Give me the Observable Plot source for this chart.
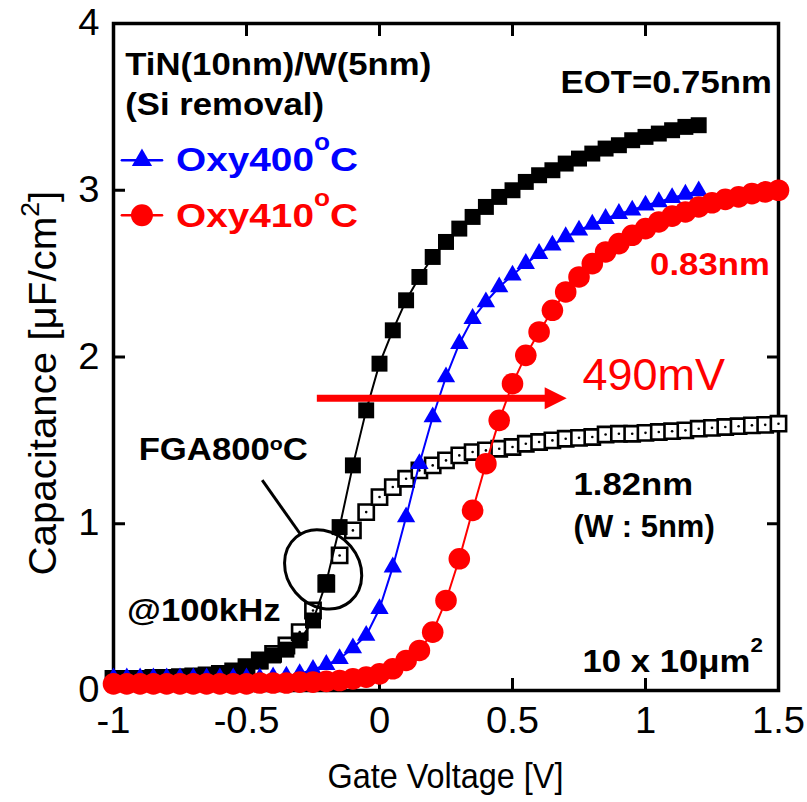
<!DOCTYPE html>
<html><head><meta charset="utf-8">
<script src="https://cdn.jsdelivr.net/npm/d3@7"></script>
<script src="https://cdn.jsdelivr.net/npm/@observablehq/plot@0.6"></script>
<style>html,body{margin:0;padding:0;background:#fff;} #chart svg{display:block}</style>
</head><body><div id="chart"></div>
<script>
// Gate voltage grid (V)
const vGate = [-1.00,-0.95,-0.90,-0.85,-0.80,-0.75,-0.70,-0.65,-0.60,-0.55,-0.50,-0.45,-0.40,-0.35,-0.30,-0.25,-0.20,-0.15,-0.10,-0.05,
  0.00,0.05,0.10,0.15,0.20,0.25,0.30,0.35,0.40,0.45,0.50,0.55,0.60,0.65,0.70,0.75,0.80,0.85,0.90,0.95,
  1.00,1.05,1.10,1.15,1.20,1.25,1.30,1.35,1.40,1.45,1.50];
// EOT=0.75nm (filled squares), -1..1.2 V
const capEOT075 = [0.07,0.07,0.07,0.07,0.075,0.075,0.08,0.085,0.095,0.11,0.135,0.175,0.21,0.245,0.30,0.42,0.65,0.98,1.35,1.68,
  1.96,2.16,2.34,2.48,2.60,2.69,2.77,2.84,2.90,2.96,3.00,3.05,3.09,3.12,3.16,3.19,3.22,3.25,3.27,3.30,
  3.32,3.34,3.36,3.38,3.39];
// FGA800C, 1.82nm (open squares), -1..1.5 V
const capFGA800 = [0.07,0.07,0.07,0.075,0.075,0.08,0.085,0.09,0.10,0.115,0.14,0.18,0.22,0.27,0.35,0.48,0.64,0.81,0.96,1.07,
  1.16,1.22,1.27,1.32,1.35,1.38,1.41,1.43,1.44,1.45,1.46,1.48,1.49,1.50,1.51,1.515,1.52,1.535,1.54,1.54,
  1.545,1.55,1.555,1.56,1.57,1.575,1.58,1.585,1.59,1.593,1.60];
// Oxy400C (triangles), -1..1.2 V
const capOxy400 = [0.075,0.075,0.075,0.075,0.075,0.075,0.075,0.075,0.075,0.075,0.075,0.075,0.08,0.085,0.10,0.125,0.155,0.19,0.255,0.33,
  0.49,0.74,1.04,1.36,1.64,1.88,2.08,2.23,2.33,2.42,2.49,2.56,2.62,2.67,2.72,2.76,2.795,2.83,2.86,2.88,
  2.91,2.93,2.955,2.975,2.995];
// Oxy410C (circles), -1..1.5 V
const capOxy410 = [0.04,0.04,0.04,0.04,0.04,0.04,0.04,0.04,0.04,0.04,0.04,0.045,0.045,0.045,0.05,0.05,0.055,0.06,0.07,0.08,
  0.10,0.13,0.18,0.24,0.35,0.54,0.79,1.08,1.36,1.62,1.84,2.01,2.15,2.28,2.39,2.48,2.56,2.63,2.68,2.73,
  2.77,2.81,2.845,2.87,2.90,2.925,2.945,2.96,2.98,2.99,3.00];
const xTicks = [-1,-0.5,0,0.5,1,1.5];
const yTicks = [0,1,2,3,4];
const legendNames = ["Oxy400", "Oxy410"];

const toRows = (vals) => vals.map((c, i) => ({v: vGate[i], c}));
const rowsEOT = toRows(capEOT075), rowsFGA = toRows(capFGA800), rows400 = toRows(capOxy400), rows410 = toRows(capOxy410);

const BLUE = "#0000ff", RED = "#ff0000";
const FONT = "'Liberation Sans', Arial, Helvetica, sans-serif";

// legend anchor positions (data units)
const legX = [-0.9685, -0.8175], legMarkX = -0.8930, legY = [3.180, 2.850];
const legLine400 = legX.map(v => ({v, c: legY[0]})), legLine410 = legX.map(v => ({v, c: legY[1]}));

const chart = Plot.plot({
  width: 807, height: 802,
  marginLeft: 113, marginRight: 29, marginTop: 23, marginBottom: 112,
  style: {fontFamily: FONT, background: "white", overflow: "visible"},
  x: {domain: [-1, 1.5], axis: null},
  y: {domain: [0, 4], axis: null},
  marks: [
    Plot.frame({stroke: "black", strokeWidth: 3.5}),
    Plot.axisX(xTicks, {anchor: "bottom", tickSize: -12, strokeWidth: 3, tickFormat: () => "", label: null}),
    Plot.axisX(xTicks, {anchor: "top", tickSize: -12, strokeWidth: 3, tickFormat: () => "", label: null}),
    Plot.axisY(yTicks, {anchor: "left", tickSize: -12, strokeWidth: 3, tickFormat: () => "", label: null}),
    Plot.axisY(yTicks, {anchor: "right", tickSize: -12, strokeWidth: 3, tickFormat: () => "", label: null}),
    Plot.axisX(xTicks, {anchor: "bottom", tickSize: 0, tickPadding: 17, fontSize: 36, fill: "black", tickFormat: d => String(d), label: null}),
    Plot.axisY(yTicks, {anchor: "left", tickSize: 0, tickPadding: 14, fontSize: 36, fill: "black", tickFormat: d => String(d), label: null}),
    // open squares
    Plot.dot(rowsFGA, {x: "v", y: "c", symbol: "square", r: 8.6, fill: "white", stroke: "black", strokeWidth: 2.6}),
    Plot.dot(rowsFGA, {x: "v", y: "c", r: 1.3, fill: "black"}),
    // filled squares
    Plot.line(rowsEOT, {x: "v", y: "c", stroke: "black", strokeWidth: 2}),
    Plot.dot(rowsEOT, {x: "v", y: "c", symbol: "square", r: 9.0, fill: "black"}),
    // triangles
    Plot.line(rows400, {x: "v", y: "c", stroke: BLUE, strokeWidth: 2}),
    Plot.dot(rows400, {x: "v", y: "c", symbol: "triangle", r: 6.8, fill: BLUE}),
    // circles
    Plot.line(rows410, {x: "v", y: "c", stroke: RED, strokeWidth: 2}),
    Plot.dot(rows410, {x: "v", y: "c", r: 10.8, fill: RED}),
    // legend
    Plot.line(legLine400, {x: "v", y: "c", stroke: BLUE, strokeWidth: 2.5}),
    Plot.dot([{v: legMarkX, c: legY[0]}], {x: "v", y: "c", symbol: "triangle", r: 7.5, fill: BLUE}),
    Plot.line(legLine410, {x: "v", y: "c", stroke: RED, strokeWidth: 2.5}),
    Plot.dot([{v: legMarkX, c: legY[1]}], {x: "v", y: "c", r: 11, fill: RED})
  ]
});
document.getElementById("chart").appendChild(chart);

// widen tick-label glyphs slightly, as in the reference
const STRETCH = 1.06;
chart.querySelectorAll("text").forEach(t => {
  const tr = t.getAttribute("transform") || "";
  t.setAttribute("transform", tr + ` scale(${STRETCH},1)`);
});

const sx = chart.scale("x"), sy = chart.scale("y");
const X = v => sx.apply(v), Y = v => sy.apply(v);
const layer = d3.select(chart).append("g").attr("font-family", FONT);

const annotations = [
  {x: -0.954, y: 3.691, parts: [{t: "TiN(10nm)/W(5nm)"}]},
  {x: -0.954, y: 3.450, parts: [{t: "(Si removal)"}]},
  {x: 1.4767, y: 3.580, anchor: "end", parts: [{t: "EOT=0.75nm"}]},
  {x: -0.7628, y: 3.110, size: 34, stretch: 1.14, fill: BLUE, supSize: 23, supShift: 21, parts: [{t: legendNames[0]}, {t: "o", sup: true}, {t: "C"}]},
  {x: -0.7628, y: 2.775, size: 34, stretch: 1.14, fill: RED, supSize: 23, supShift: 21, parts: [{t: legendNames[1]}, {t: "o", sup: true}, {t: "C"}]},
  {x: 1.469, y: 2.489, anchor: "end", fill: RED, parts: [{t: "0.83nm"}]},
  {x: 0.765, y: 1.799, size: 45, weight: "normal", fill: RED, stretch: 1.0, parts: [{t: "490mV"}]},
  {x: -0.9035, y: 1.378, supSize: 19, supShift: 10, parts: [{t: "FGA800"}, {t: "o", sup: true}, {t: "C"}]},
  {x: -0.947, y: 0.411, parts: [{t: "@100kHz"}]},
  {x: 0.7314, y: 1.168, parts: [{t: "1.82nm"}]},
  {x: 0.7314, y: 0.916, stretch: 1.0, parts: [{t: "(W : 5nm)"}]},
  {x: 0.765, y: 0.105, supSize: 20, supShift: 21, parts: [{t: "10 x 10μm"}, {t: "2", sup: true}]}
];
function addText(a) {
  const t = layer.append("text")
    .attr("transform", `translate(${X(a.x)},${Y(a.y)}) scale(${a.stretch ?? 1.12},1)`)
    .attr("text-anchor", a.anchor || "start")
    .attr("font-size", a.size || 31)
    .attr("font-weight", a.weight || "bold")
    .attr("fill", a.fill || "black");
  let raised = false;
  for (const p of a.parts) {
    const ts = t.append("tspan").text(p.t);
    if (p.sup) { ts.attr("font-size", a.supSize).attr("dy", -a.supShift); raised = true; }
    else if (raised) { ts.attr("dy", a.supShift); raised = false; }
  }
}
annotations.forEach(addText);

// red shift arrow
const arrow = {x1: -0.2337, x2: 0.7055, y: 1.749};
const ax1 = X(arrow.x1), ax2 = X(arrow.x2), ay = Y(arrow.y), head = 22;
layer.append("line").attr("x1", ax1).attr("x2", ax2 - head + 2).attr("y1", ay).attr("y2", ay)
  .attr("stroke", RED).attr("stroke-width", 7);
layer.append("path").attr("d", `M${ax2},${ay} L${ax2 - head},${ay - 11} L${ax2 - head},${ay + 11} Z`).attr("fill", RED);

// leader line and ellipse around the 100 kHz region
const leader = {x1: -0.4391, y1: 1.258, x2: -0.2926, y2: 0.928};
layer.append("line").attr("x1", X(leader.x1)).attr("y1", Y(leader.y1)).attr("x2", X(leader.x2)).attr("y2", Y(leader.y2))
  .attr("stroke", "black").attr("stroke-width", 3);
const ell = {x: -0.210, y: 0.7237};
layer.append("ellipse").attr("cx", 0).attr("cy", 0).attr("rx", 42).attr("ry", 36)
  .attr("transform", `translate(${X(ell.x)},${Y(ell.y)}) rotate(50)`)
  .attr("fill", "none").attr("stroke", "black").attr("stroke-width", 3);

// axis titles
const xTitle = {x: 0.25, y: -0.585};
layer.append("text").attr("transform", `translate(${X(xTitle.x)},${Y(xTitle.y)}) scale(0.9,1)`)
  .attr("text-anchor", "middle").attr("font-size", 36).attr("fill", "black").text("Gate Voltage [V]");
const yTitle = {x: -1.213, y: 1.84};
const yt = layer.append("text").attr("transform", `translate(${X(yTitle.x)},${Y(yTitle.y)}) rotate(-90) scale(1.06,1)`)
  .attr("text-anchor", "middle").attr("font-size", 38).attr("fill", "black");
yt.append("tspan").text("Capacitance [μF/cm");
yt.append("tspan").text("2").attr("font-size", 25).attr("dy", -17);
yt.append("tspan").text("]").attr("dy", 17);
</script></body></html>
